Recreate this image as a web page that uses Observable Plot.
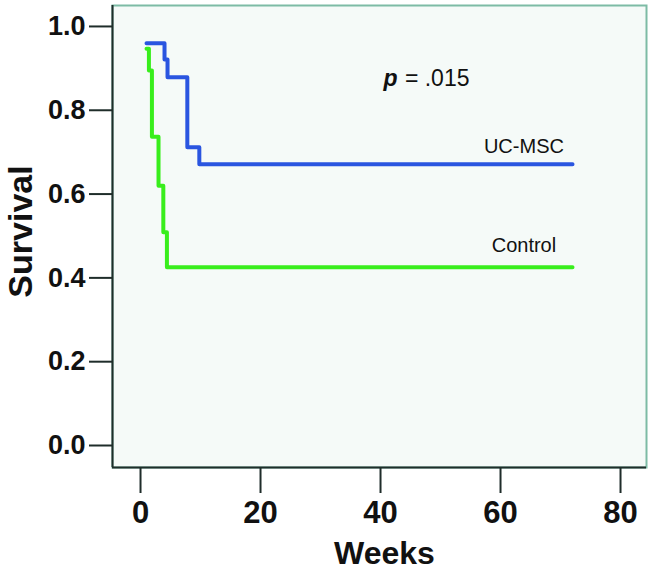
<!DOCTYPE html>
<html>
<head>
<meta charset="utf-8">
<script src="https://cdn.jsdelivr.net/npm/d3@7"></script>
<script src="https://cdn.jsdelivr.net/npm/@observablehq/plot@0.6"></script>
<style>
  html, body { margin: 0; padding: 0; background: #ffffff; }
  #chart svg { display: block; font-family: "Liberation Sans", Arial, sans-serif; }
</style>
</head>
<body>
<div id="chart"></div>
<script>
// Kaplan–Meier steps
const ucWeeks = [1.0, 4.0, 4.5, 7.8, 9.8, 72];
const ucSurv  = [0.96, 0.921, 0.879, 0.712, 0.671, 0.671];
const ctrlWeeks = [1.0, 1.4, 1.9, 3.0, 3.8, 4.4, 72];
const ctrlSurv  = [0.947, 0.895, 0.737, 0.62, 0.509, 0.4255, 0.4255];

const xTicks = [0, 20, 40, 60, 80];
const yTicks = [0, 0.2, 0.4, 0.6, 0.8, 1.0];
const xDomain = [-4.67, 84.33];
const yDomain = [-0.0525, 1.05];

const seriesLabels = ["UC-MSC", "Control"];
const seriesLabelWeek = [63.9, 63.9];
const seriesLabelSurv = [0.699, 0.461];
const pLabel = {week: 40.5, surv: 0.859, p: "p", rest: " = .015"};

const uc = ucWeeks.map((w, i) => ({week: w, surv: ucSurv[i]}));
const ctrl = ctrlWeeks.map((w, i) => ({week: w, surv: ctrlSurv[i]}));
const labels = seriesLabels.map((t, i) => ({t, week: seriesLabelWeek[i], surv: seriesLabelSurv[i]}));

const chart = Plot.plot({
  width: 650,
  height: 571,
  marginLeft: 112,
  marginRight: 4,
  marginTop: 5,
  marginBottom: 104,
  style: {fontFamily: '"Liberation Sans", Arial, sans-serif', background: "#ffffff", color: "#111"},
  x: {domain: xDomain},
  y: {domain: yDomain},
  marks: [
    Plot.frame({fill: "#f5faf8", stroke: "#7dbba5", strokeWidth: 2}),
    Plot.ruleX([xDomain[0]], {stroke: "#1f2d2a", strokeWidth: 2}),
    Plot.ruleY([yDomain[0]], {stroke: "#1f2d2a", strokeWidth: 2}),
    Plot.axisX({ticks: xTicks, tickSize: 26, tickPadding: 7, fontSize: 31, fontWeight: "bold",
                label: null, stroke: "#1f2d2a", strokeWidth: 2, fill: "#111"}),
    Plot.axisY({ticks: yTicks, tickFormat: d3.format(".1f"), tickSize: 23, tickPadding: 4,
                fontSize: 27, fontWeight: "bold", label: null, stroke: "#1f2d2a", strokeWidth: 2, fill: "#111"}),
    Plot.line(ctrl, {x: "week", y: "surv", curve: "step-after", stroke: "#38ee1c", strokeWidth: 4}),
    Plot.line(uc, {x: "week", y: "surv", curve: "step-after", stroke: "#2a55e0", strokeWidth: 4}),
    Plot.text(labels, {x: "week", y: "surv", text: "t", fontSize: 20, textAnchor: "middle", lineAnchor: "bottom", fill: "#111"}),
    Plot.text([pLabel], {x: "week", y: "surv", text: "p", fontSize: 23, fontWeight: "bold", fontStyle: "italic",
                         textAnchor: "start", lineAnchor: "bottom", fill: "#111"}),
    Plot.text([pLabel], {x: "week", y: "surv", text: "rest", fontSize: 23, textAnchor: "start", lineAnchor: "bottom",
                         dx: 15, fill: "#111", style: "white-space: pre"}),
    Plot.text(["Weeks"], {frameAnchor: "bottom", text: d => d, fontSize: 32, fontWeight: "bold",
                          textAnchor: "middle", lineAnchor: "bottom", dx: 5, dy: 96, fill: "#111"}),
    Plot.text(["Survival"], {frameAnchor: "left", text: d => d, fontSize: 34, fontWeight: "bold", rotate: -90,
                             textAnchor: "middle", lineAnchor: "bottom", dx: -80.5, dy: -5, fill: "#111"})
  ]
});
document.getElementById("chart").appendChild(chart);
</script>
</body>
</html>
